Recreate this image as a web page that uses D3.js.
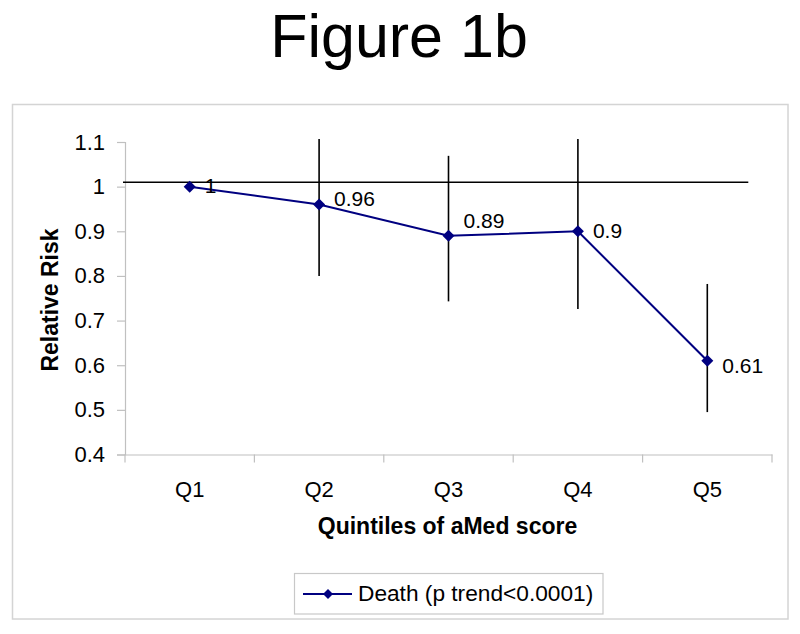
<!DOCTYPE html>
<html>
<head>
<meta charset="utf-8">
<script src="https://cdn.jsdelivr.net/npm/d3@7/dist/d3.min.js"></script>
<style>
  html, body { margin: 0; padding: 0; background: #fff; }
  svg { display: block; font-family: "Liberation Sans", Arial, sans-serif; }
</style>
</head>
<body>
<svg id="chart" width="800" height="634"></svg>
<script>
// ---- data ----
const categories = ["Q1", "Q2", "Q3", "Q4", "Q5"];
const relativeRisk = [1, 0.96, 0.89, 0.9, 0.61];
const ciLower = [null, 0.80, 0.743, 0.726, 0.495];
const ciUpper = [null, 1.107, 1.069, 1.107, 0.782];
const valueLabels = ["1", "0.96", "0.89", "0.9", "0.61"];
const yTicks = [0.4, 0.5, 0.6, 0.7, 0.8, 0.9, 1, 1.1];
const referenceValue = 1.01;
const titleText = "Figure 1b";
const xTitle = "Quintiles of aMed score";
const yTitle = "Relative Risk";
const legendText = "Death (p trend<0.0001)";

// ---- layout ----
const svg = d3.select("#chart");
const plot = { left: 125, right: 772, top: 142, bottom: 454.5 };
const navy = "#000080";

const x = d3.scaleBand().domain(categories).range([plot.left, plot.right]).padding(0);
const y = d3.scaleLinear().domain([0.4, 1.1]).range([plot.bottom, plot.top]);
const cx = c => x(c) + x.bandwidth() / 2;

// outer border
svg.append("rect")
  .attr("x", 12.5).attr("y", 104.5).attr("width", 775.5).attr("height", 514.5)
  .attr("fill", "#fff").attr("stroke", "#d4d4d4").attr("stroke-width", 1.5);

// title
svg.append("text").attr("x", 399).attr("y", 57)
  .attr("text-anchor", "middle").attr("font-size", 61).attr("fill", "#000")
  .text(titleText);

// y axis
const yAxis = d3.axisLeft(y).tickValues(yTicks).tickSize(8).tickPadding(12)
  .tickFormat(d => d3.format("")(d));
const gy = svg.append("g").attr("transform", `translate(${plot.left},0)`).call(yAxis);
gy.select(".domain").attr("stroke", "#c0c0c0").attr("stroke-width", 1.2);
gy.selectAll(".tick line").attr("stroke", "#c0c0c0").attr("stroke-width", 1.2);
gy.selectAll(".tick text").attr("font-size", 22).attr("fill", "#000")
  .attr("font-family", "Liberation Sans, Arial, sans-serif");

// x axis
const xAxis = d3.axisBottom(x).tickSize(0).tickPadding(0);
const gx = svg.append("g").attr("transform", `translate(0,${plot.bottom})`).call(xAxis);
gx.select(".domain").attr("stroke", "#c0c0c0").attr("stroke-width", 1.2);
gx.selectAll(".tick text").attr("font-size", 22).attr("fill", "#000")
  .attr("font-family", "Liberation Sans, Arial, sans-serif")
  .attr("dy", null).attr("y", 42);
// category separator ticks (between categories)
const boundaries = categories.map(c => x(c)).concat([x(categories[categories.length - 1]) + x.bandwidth()]);
svg.append("g").selectAll("line").data(boundaries).join("line")
  .attr("x1", d => d).attr("x2", d => d)
  .attr("y1", plot.bottom).attr("y2", plot.bottom + 8)
  .attr("stroke", "#c0c0c0").attr("stroke-width", 1.2);

// axis titles
svg.append("text").attr("x", 447.5).attr("y", 534)
  .attr("text-anchor", "middle").attr("font-size", 23).attr("font-weight", "bold")
  .text(xTitle);
svg.append("text")
  .attr("transform", "translate(58,300) rotate(-90)")
  .attr("text-anchor", "middle").attr("font-size", 23).attr("font-weight", "bold")
  .text(yTitle);

// reference line
svg.append("line")
  .attr("x1", plot.left - 2).attr("x2", cx(categories[4]) + 41)
  .attr("y1", y(referenceValue)).attr("y2", y(referenceValue))
  .attr("stroke", "#000").attr("stroke-width", 1.6);

// error bars
const idx = d3.range(categories.length).filter(i => ciLower[i] != null);
svg.append("g").selectAll("line").data(idx).join("line")
  .attr("x1", i => cx(categories[i])).attr("x2", i => cx(categories[i]))
  .attr("y1", i => y(ciUpper[i])).attr("y2", i => y(ciLower[i]))
  .attr("stroke", "#000").attr("stroke-width", 1.6);

// series line
const pts = categories.map((c, i) => [cx(c), y(relativeRisk[i])]);
svg.append("path").attr("d", d3.line()(pts))
  .attr("fill", "none").attr("stroke", navy).attr("stroke-width", 2);

// markers
const diamond = d3.symbol().type(d3.symbolDiamond2).size(92);
svg.append("g").selectAll("path").data(pts).join("path")
  .attr("transform", d => `translate(${d[0]},${d[1]})`)
  .attr("d", diamond).attr("fill", navy);

// value labels
const labelShift = [-1, -6, -15, -1, 5];
svg.append("g").selectAll("text").data(pts).join("text")
  .attr("x", d => d[0] + 15)
  .attr("y", (d, i) => d[1] + labelShift[i])
  .attr("dy", "0.36em")
  .attr("font-size", 21).attr("fill", "#000")
  .text((d, i) => valueLabels[i]);

// legend
const lg = svg.append("g");
lg.append("rect").attr("x", 294.5).attr("y", 573.5).attr("width", 308.5).attr("height", 40.5)
  .attr("fill", "#fff").attr("stroke", "#c8c8c8").attr("stroke-width", 1.2);
lg.append("line").attr("x1", 303).attr("x2", 352).attr("y1", 594).attr("y2", 594)
  .attr("stroke", navy).attr("stroke-width", 2);
lg.append("path").attr("transform", "translate(328,594)")
  .attr("d", d3.symbol().type(d3.symbolDiamond2).size(64)).attr("fill", navy);
lg.append("text").attr("x", 358).attr("y", 601)
  .attr("font-size", 22.7).attr("fill", "#000").text(legendText);
</script>
</body>
</html>
